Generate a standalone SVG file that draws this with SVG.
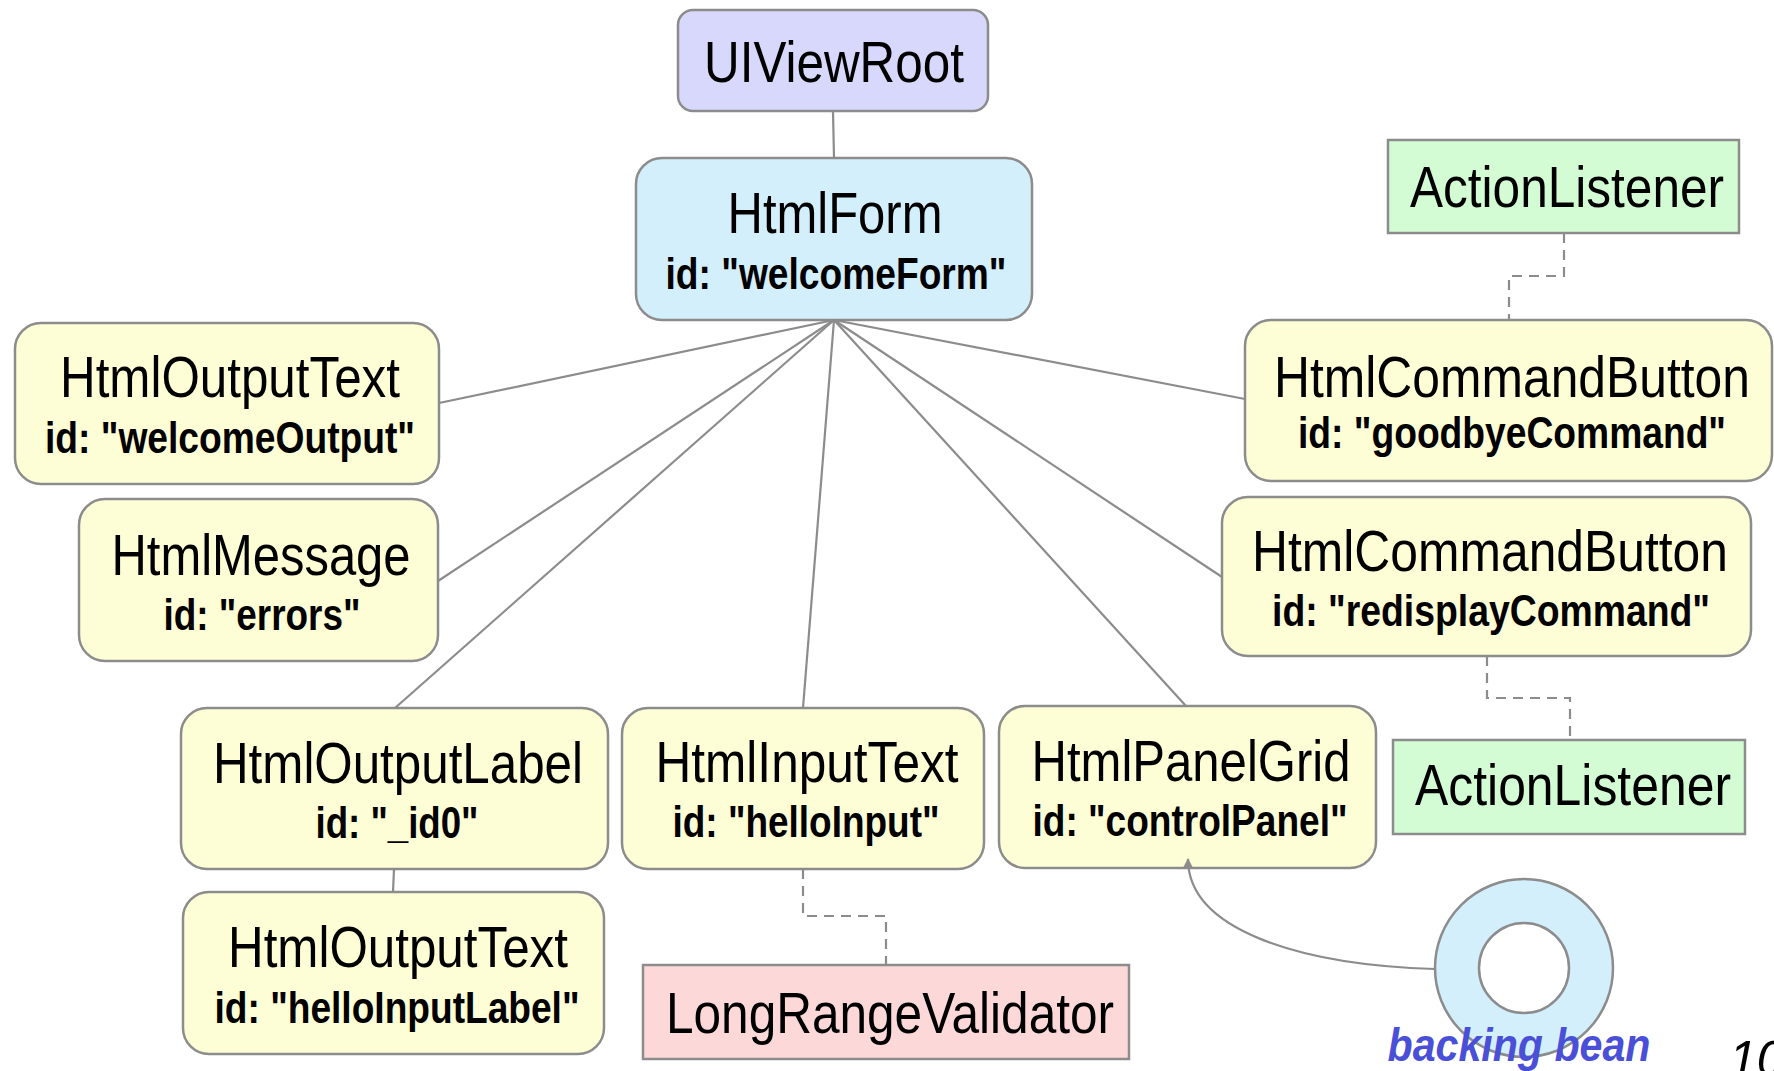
<svg xmlns="http://www.w3.org/2000/svg" width="1774" height="1071" viewBox="0 0 1774 1071">
<defs>
<style>
.n{stroke:#8c8c8c;stroke-width:2.5}
.y{fill:#fefed6}
.t{font-family:"Liberation Sans",Arial,sans-serif;font-size:58px;fill:#000;text-anchor:middle}
.b{font-family:"Liberation Sans",Arial,sans-serif;font-size:44px;font-weight:bold;fill:#000;text-anchor:middle}
.c{stroke:#8c8c8c;stroke-width:2.2;fill:none}
.d{stroke:#8c8c8c;stroke-width:2.2;fill:none;stroke-dasharray:10 7}
</style>
<marker id="arr" viewBox="0 0 10 10" refX="9" refY="5" markerWidth="10" markerHeight="10" markerUnits="userSpaceOnUse" orient="auto">
<path d="M0,0 L10,5 L0,10 z" fill="#8c8c8c"/>
</marker>
</defs>
<rect width="1774" height="1071" fill="#fff"/>
<g id="uiviewroot">
<rect class="n" x="678" y="10" width="310" height="101" rx="15" fill="#d8d8fc"/>
<text class="t" x="834" y="82" textLength="260" lengthAdjust="spacingAndGlyphs">UIViewRoot</text>
</g>
<g id="htmlform">
<rect class="n" x="636" y="158" width="396" height="162" rx="26" fill="#d4effc"/>
<text class="t" x="835" y="233" textLength="215" lengthAdjust="spacingAndGlyphs">HtmlForm</text>
<text class="b" x="836" y="289" textLength="341" lengthAdjust="spacingAndGlyphs">id: "welcomeForm"</text>
</g>
<g id="welcomeOutput">
<rect class="n y" x="15" y="323" width="424" height="161" rx="26"/>
<text class="t" x="230" y="397" textLength="340" lengthAdjust="spacingAndGlyphs">HtmlOutputText</text>
<text class="b" x="230" y="453" textLength="370" lengthAdjust="spacingAndGlyphs">id: "welcomeOutput"</text>
</g>
<g id="errors">
<rect class="n y" x="79" y="499" width="359" height="162" rx="26"/>
<text class="t" x="261" y="575" textLength="299" lengthAdjust="spacingAndGlyphs">HtmlMessage</text>
<text class="b" x="262" y="630" textLength="197" lengthAdjust="spacingAndGlyphs">id: "errors"</text>
</g>
<g id="id0">
<rect class="n y" x="181" y="708" width="427" height="161" rx="26"/>
<text class="t" x="398" y="783" textLength="370" lengthAdjust="spacingAndGlyphs">HtmlOutputLabel</text>
<text class="b" x="397" y="838" textLength="163" lengthAdjust="spacingAndGlyphs">id: "_id0"</text>
</g>
<g id="helloInputLabel">
<rect class="n y" x="183" y="892" width="421" height="162" rx="26"/>
<text class="t" x="398" y="967" textLength="340" lengthAdjust="spacingAndGlyphs">HtmlOutputText</text>
<text class="b" x="397" y="1023" textLength="365" lengthAdjust="spacingAndGlyphs">id: "helloInputLabel"</text>
</g>
<g id="helloInput">
<rect class="n y" x="622" y="708" width="362" height="161" rx="26"/>
<text class="t" x="807" y="782" textLength="303" lengthAdjust="spacingAndGlyphs">HtmlInputText</text>
<text class="b" x="806" y="837" textLength="267" lengthAdjust="spacingAndGlyphs">id: "helloInput"</text>
</g>
<g id="controlPanel">
<rect class="n y" x="999" y="706" width="377" height="162" rx="26"/>
<text class="t" x="1191" y="781" textLength="319" lengthAdjust="spacingAndGlyphs">HtmlPanelGrid</text>
<text class="b" x="1190" y="836" textLength="315" lengthAdjust="spacingAndGlyphs">id: "controlPanel"</text>
</g>
<g id="goodbyeCommand">
<rect class="n y" x="1245" y="320" width="527" height="161" rx="26"/>
<text class="t" x="1512" y="397" textLength="476" lengthAdjust="spacingAndGlyphs">HtmlCommandButton</text>
<text class="b" x="1512" y="448" textLength="428" lengthAdjust="spacingAndGlyphs">id: "goodbyeCommand"</text>
</g>
<g id="redisplayCommand">
<rect class="n y" x="1222" y="497" width="529" height="159" rx="26"/>
<text class="t" x="1490" y="571" textLength="476" lengthAdjust="spacingAndGlyphs">HtmlCommandButton</text>
<text class="b" x="1491" y="626" textLength="438" lengthAdjust="spacingAndGlyphs">id: "redisplayCommand"</text>
</g>
<g id="actionListener1">
<rect class="n" x="1388" y="140" width="351" height="93" fill="#d4fcd4"/>
<text class="t" x="1567" y="207" textLength="314" lengthAdjust="spacingAndGlyphs">ActionListener</text>
</g>
<g id="actionListener2">
<rect class="n" x="1393" y="740" width="352" height="94" fill="#d4fcd4"/>
<text class="t" x="1573" y="805" textLength="316" lengthAdjust="spacingAndGlyphs">ActionListener</text>
</g>
<g id="longRangeValidator">
<rect class="n" x="643" y="965" width="486" height="94" fill="#fcd8d8"/>
<text class="t" x="890" y="1033" textLength="448" lengthAdjust="spacingAndGlyphs">LongRangeValidator</text>
</g>
<g id="backingBean">
<circle class="n" cx="1524" cy="968" r="89" fill="#d4effc"/>
<circle class="n" cx="1524" cy="968" r="45" fill="#fff"/>
<text x="1519" y="1061" font-family="Liberation Sans, Arial, sans-serif" font-size="46" font-weight="bold" font-style="italic" fill="#4a4fd8" text-anchor="middle" textLength="263" lengthAdjust="spacingAndGlyphs">backing bean</text>
</g>
<g id="connectors">
<line class="c" x1="833" y1="111" x2="834" y2="158"/>
<line class="c" x1="834" y1="320" x2="439" y2="403"/>
<line class="c" x1="834" y1="320" x2="438" y2="581"/>
<line class="c" x1="834" y1="320" x2="395" y2="708"/>
<line class="c" x1="834" y1="320" x2="803" y2="708"/>
<line class="c" x1="834" y1="320" x2="1186" y2="706"/>
<line class="c" x1="834" y1="320" x2="1222" y2="577"/>
<line class="c" x1="834" y1="320" x2="1245" y2="399"/>
<line class="c" x1="394" y1="869" x2="393" y2="892"/>
<polyline class="d" points="803,869 803,916 886,916 886,965"/>
<polyline class="d" points="1564,233 1564,276 1509,276 1509,320"/>
<polyline class="d" points="1487,656 1487,698 1570,698 1570,740"/>
<path class="c" d="M1435,969 C1300,965 1188,930 1188,859" marker-end="url(#arr)"/>
</g>
<text x="1729" y="1076" font-family="Liberation Sans, Arial, sans-serif" font-size="50" font-style="italic" fill="#000">10</text>
</svg>
